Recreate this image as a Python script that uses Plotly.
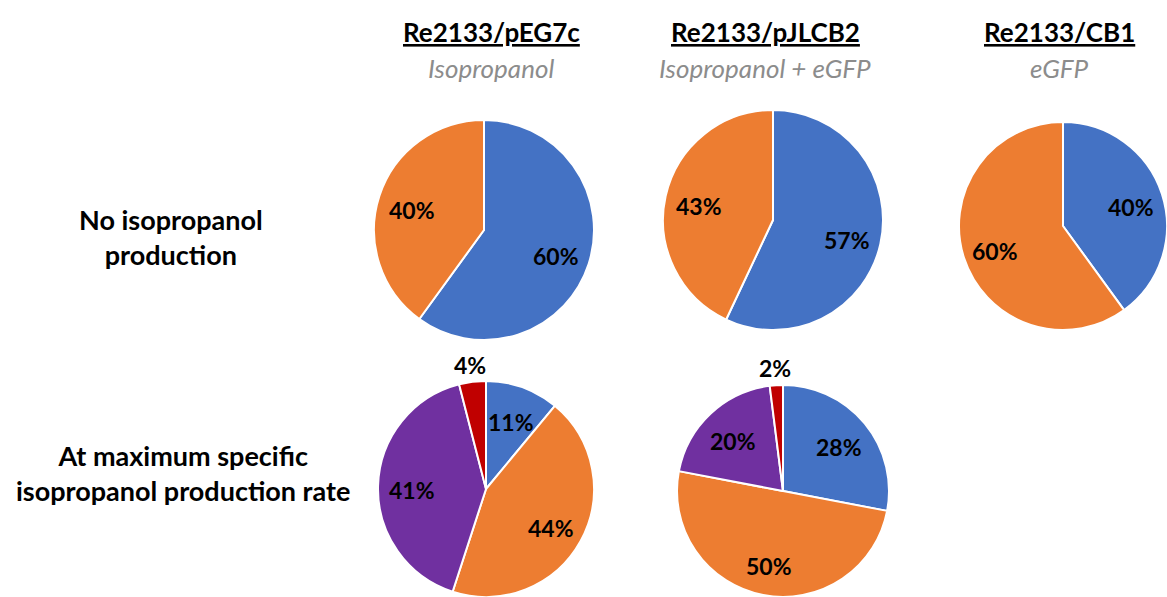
import math
import plotly.graph_objects as go

W, H = 1167, 597

# Shares (%) of each fraction per strain and condition
colors = ["#4472C4", "#ED7D31", "#7030A0", "#C00000"]

pEG7c_no = [60, 40]
pJLCB2_no = [57, 43]
CB1_no = [40, 60]
pEG7c_max = [11, 44, 41, 4]
pJLCB2_max = [28, 50, 20, 2]

strains = ["Re2133/pEG7c", "Re2133/pJLCB2", "Re2133/CB1"]
products = ["Isopropanol", "Isopropanol + eGFP", "eGFP"]
conditions = ["No isopropanol<br>production",
              "At maximum specific<br>isopropanol production rate"]

FONT = "Lato"


def px_x(v):
    return v / W


def px_y(v):
    return 1 - v / H


def dom(cx, cy, r):
    return dict(x=[px_x(cx - r), px_x(cx + r)],
                y=[px_y(cy + r), px_y(cy - r)])


annotations = []


def pie(values, cx, cy, r, outside=()):
    n = len(values)
    total = sum(values)
    # value labels placed along each slice's bisector
    start = 0.0
    for i, v in enumerate(values):
        mid = (start + v / 2) / total * 2 * math.pi
        start += v
        if i in outside:
            k, dy = 1.16, 0
        else:
            k, dy = 0.69, 3
        annotations.append(dict(
            text=f"<b>{v}%</b>",
            x=px_x(cx + k * r * math.sin(mid)),
            y=px_y(cy - k * r * math.cos(mid) + dy),
            xref="paper", yref="paper", showarrow=False,
            xanchor="center", yanchor="middle",
            font=dict(family=FONT, size=23, color="black"),
        ))
    return go.Pie(
        values=values,
        labels=[f"s{i}" for i in range(n)],
        sort=False,
        direction="clockwise",
        rotation=0,
        marker=dict(colors=colors[:n], line=dict(color="white", width=2)),
        textinfo="none",
        showlegend=False,
        hoverinfo="skip",
        domain=dom(cx, cy, r),
    )


fig = go.Figure()
fig.add_trace(pie(pEG7c_no, 484, 230, 110))
fig.add_trace(pie(pJLCB2_no, 773, 220, 110))
fig.add_trace(pie(CB1_no, 1063, 226, 104))
fig.add_trace(pie(pEG7c_max, 486, 489, 108, outside=(3,)))
fig.add_trace(pie(pJLCB2_max, 783, 491, 106, outside=(3,)))

for s, p, cx in zip(strains, products, [491, 765, 1059]):
    annotations.append(dict(
        text=f"<b>{s}</b>", x=px_x(cx), y=px_y(32),
        xref="paper", yref="paper", showarrow=False,
        xanchor="center", yanchor="middle",
        font=dict(family=FONT, size=26, color="black", lineposition="under"),
    ))
    annotations.append(dict(
        text=f"<i>{p}</i>", x=px_x(cx), y=px_y(68),
        xref="paper", yref="paper", showarrow=False,
        xanchor="center", yanchor="middle",
        font=dict(family=FONT, size=26, color="#8c8c8c"),
    ))

for c, cx, cy in zip(conditions, [171, 183], [237, 473]):
    annotations.append(dict(
        text=f"<b>{c}</b>", x=px_x(cx), y=px_y(cy),
        xref="paper", yref="paper", showarrow=False,
        xanchor="center", yanchor="middle", align="center",
        font=dict(family=FONT, size=27, color="black"),
    ))

fig.update_layout(
    width=W, height=H,
    margin=dict(l=0, r=0, t=0, b=0),
    paper_bgcolor="white", plot_bgcolor="white",
    annotations=annotations,
)

fig.write_html("out.html")
